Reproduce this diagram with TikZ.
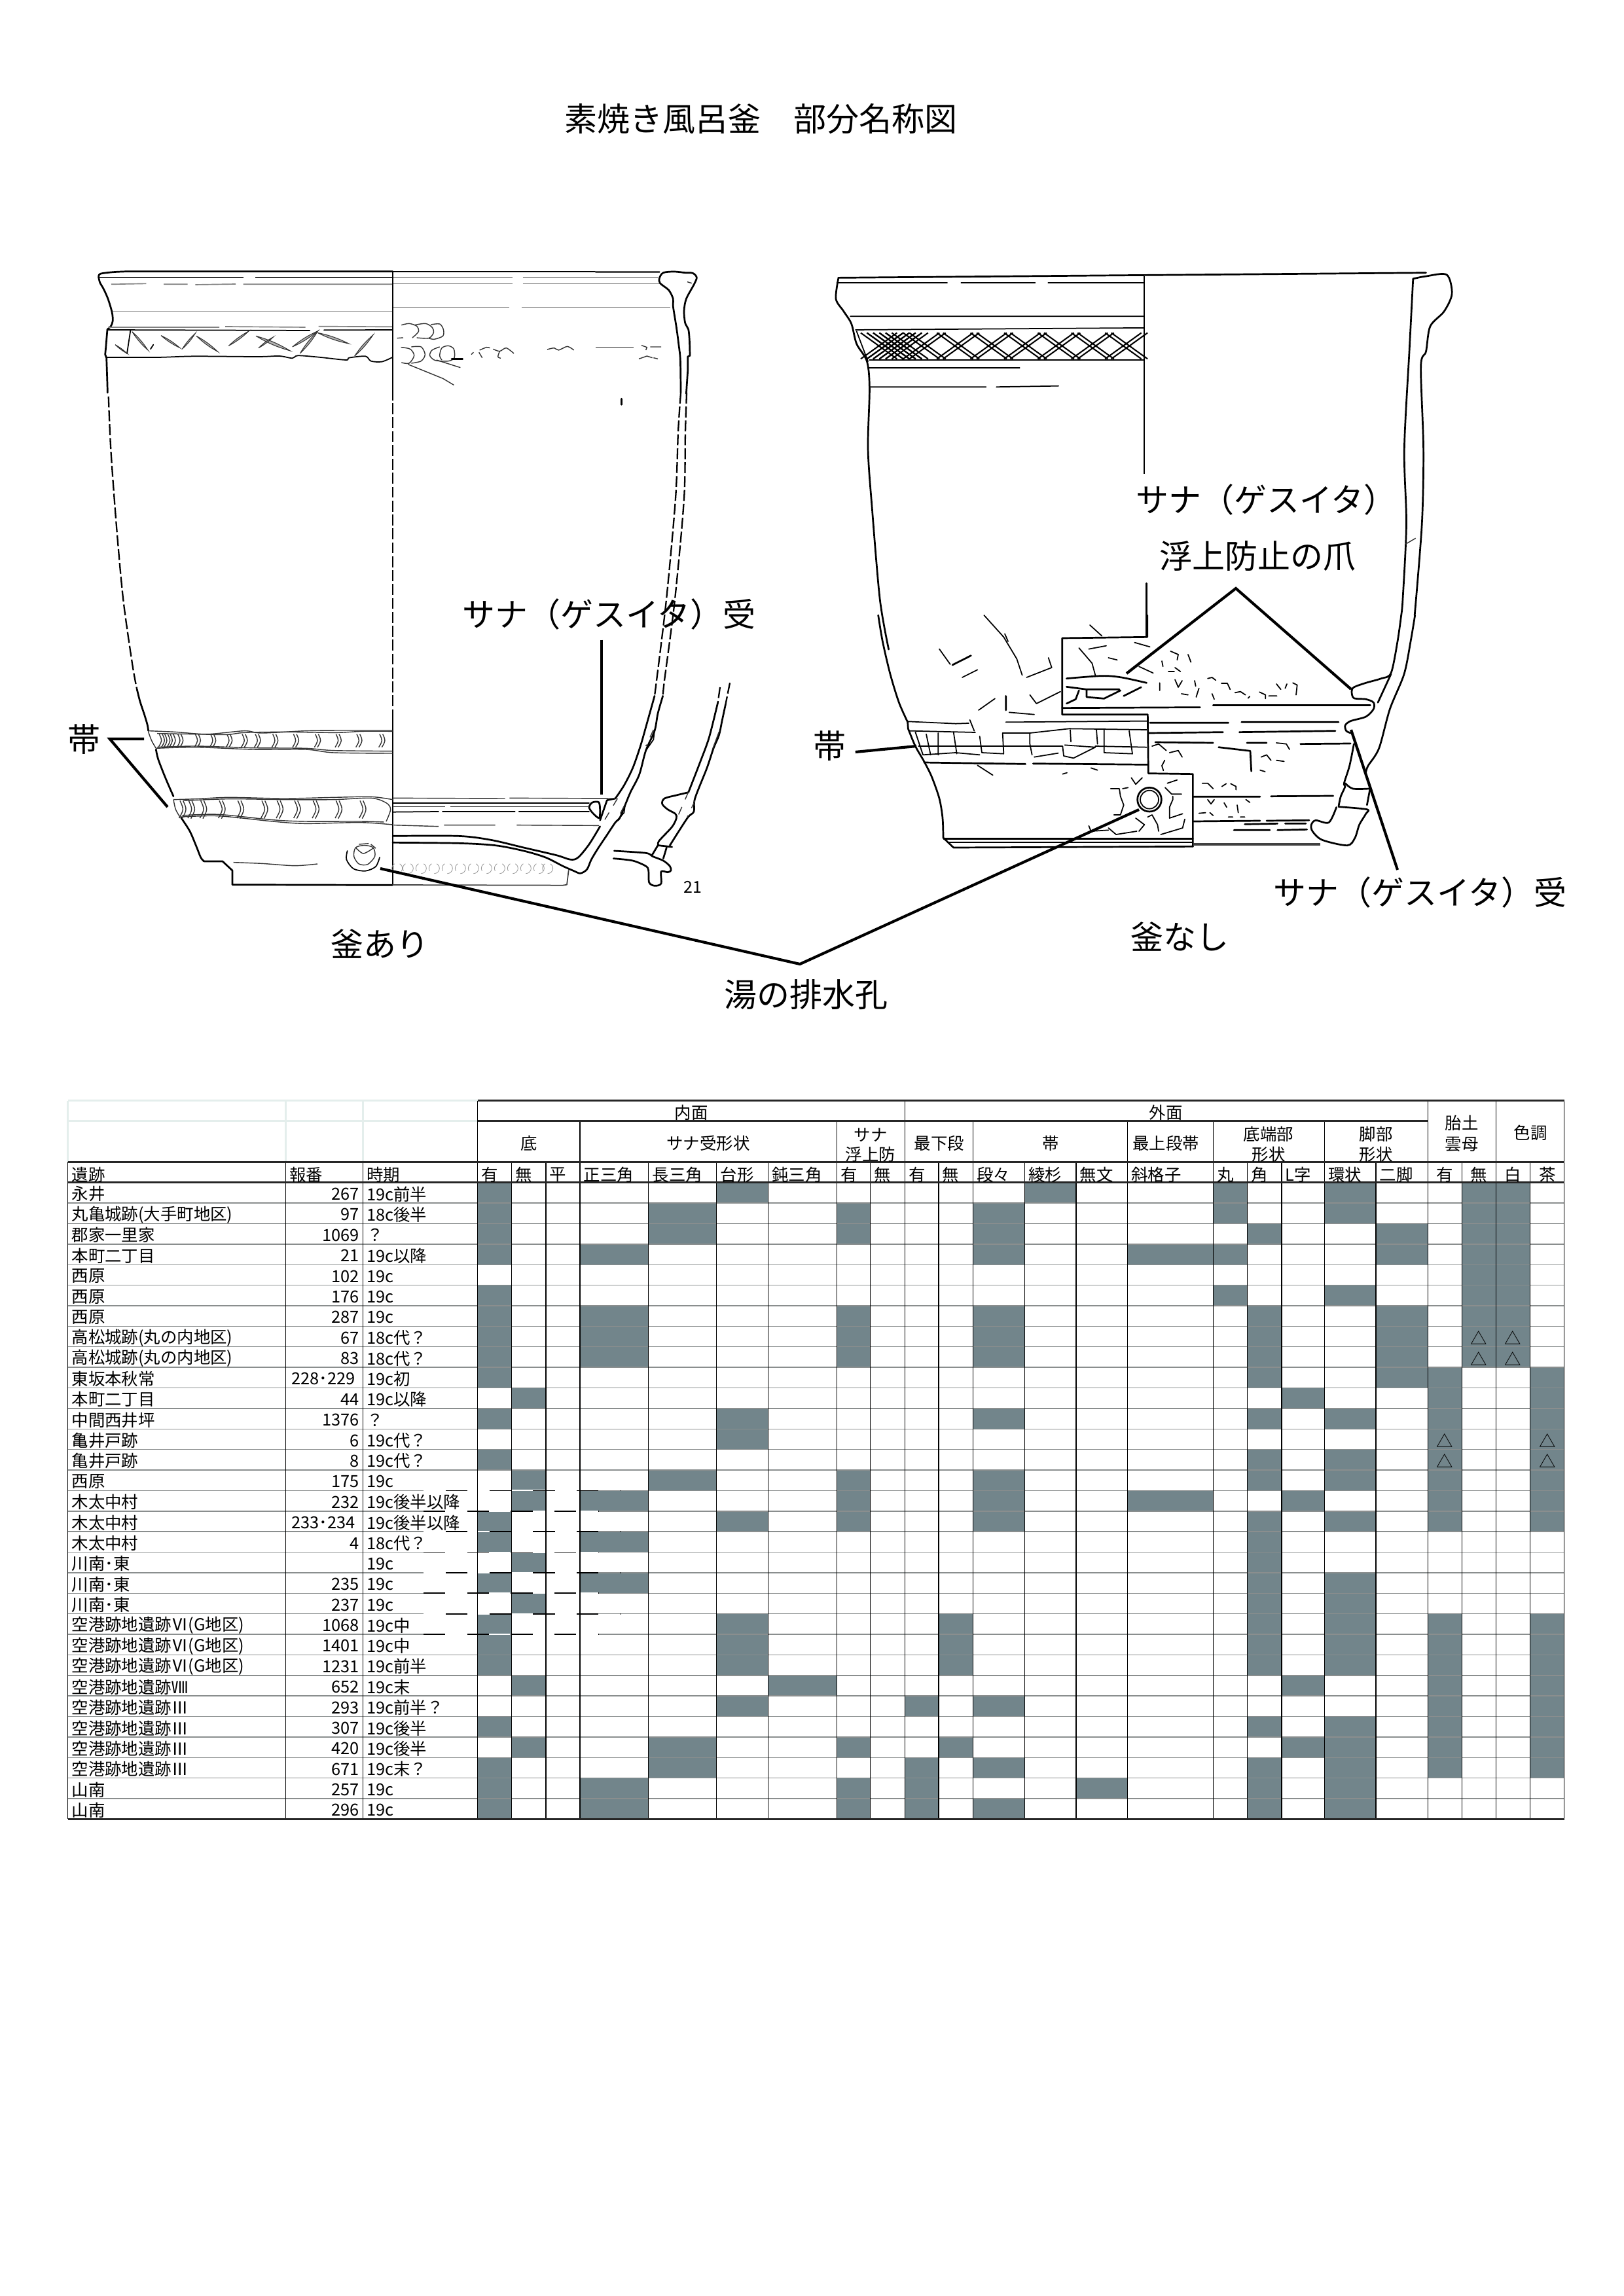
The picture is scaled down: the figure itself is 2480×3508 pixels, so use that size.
\documentclass[tikz,border=0pt]{standalone}
\usepackage{fontspec}
\setmainfont{Noto Sans CJK JP}
\usetikzlibrary{calc}
\definecolor{cellgrey}{HTML}{72858B}
\definecolor{rowgrey}{HTML}{8A8E8E}
\definecolor{palehead}{HTML}{E4EEEC}
\tikzset{
  crop/.style 2 args={shift={(#1,#2)},x=0.08pt,y=-0.08pt},
  cropL/.style={shift={(90,380)},x=0.16836pt,y=-0.18367pt},
  cropR/.style={shift={(1190,380)},x=0.1898pt,y=-0.18367pt},
  ink/.style={line width=0.65pt,line join=round,line cap=round},
  thinink/.style={line width=0.42pt,line join=round,line cap=round},
  fine/.style={line width=0.34pt,black!80,line join=round},
  pale/.style={line width=0.4pt,black!50,line join=round},
  faint/.style={line width=0.2pt,black!40},
  brokenwall/.style={line width=0.55pt,dash pattern=on 4pt off 1.1pt},
  nick/.style={line width=0.25pt,draw=black!80,fill=black!30},
  leader/.style={line width=1pt},
  lbl/.style={font=\fontsize{12}{14}\selectfont},
  cellt/.style={font=\fontsize{6.1}{7}\selectfont,inner ysep=0pt,inner xsep=1.2pt,yshift=-0.5pt},
  cellfill/.style={fill=cellgrey},
  rowline/.style={line width=0.35pt,rowgrey},
  colline/.style={line width=0.3pt,black},
  headline/.style={line width=0.6pt,black!85},
}
\begin{document}
\begin{tikzpicture}[x=0.24pt,y=-0.24pt]
\useasboundingbox (0,0) rectangle (2480,3508);
\node[lbl] (title) at (1162,182) {素焼き風呂釜　部分名称図};

% left pot, upper part
\begin{scope}[crop={140}{400}]
  \draw[ink] plot[smooth] coordinates {(32,70) (40,55) (100,47) (170,44)} -- (1380,44);
  \draw[ink] plot[smooth] coordinates {(32,70) (38,95) (55,125) (75,170) (93,230) (97,270) (88,295) (72,310)};
  \draw[ink] (72,310) -- (65,395) -- (62,425) -- (68,440) -- (72,560) -- (73,600);
  \draw[fine] (35,72) -- (695,72) (750,72) -- (1380,72);
  \draw[pale] (90,103) -- (250,100) (330,103) -- (440,103) (475,105) -- (660,102) (695,103) -- (1380,103);
  \draw[pale] (95,227) -- (1380,227);
  \draw[pale] (75,300) -- (585,300) (612,297) -- (980,300) (1040,296) -- (1380,298);
  \draw[thinink] (75,312) -- (1000,315) (1065,313) -- (1380,312);
  \draw[thinink] plot[smooth] coordinates {(68,438) (300,438) (470,433) (760,435) (860,432) (920,442) (945,430) (1040,437) (1165,450) (1180,440) (1255,433) (1280,455) (1330,458) (1380,437)};
  \foreach \xa/\ya/\xb/\yb in {185/320/258/405,318/338/405/395,480/340/578/412,628/385/720/318,753/340/910/408,765/395/832/345,920/390/1035/318,955/420/1035/320,1035/325/1178/375,1205/432/1290/335,108/380/162/420,415/400/475/328}
    \draw[nick] (\xa,\ya) to[bend left=7] (\xb,\yb) to[bend left=7] (\xa,\ya);
  \draw[thinink] (162,420) -- (178,315) (270,400) -- (283,380);
\end{scope}
\begin{scope}[crop={600}{400}]
  \draw[ink] (0,45) -- (930,45);
  \draw[ink,black!70] (930,46) -- (1222,46);
  \draw[fine] (0,73) -- (550,73) (596,73) -- (1215,73);
  \draw[pale] (0,101) -- (548,101) (596,101) -- (1220,101);
  \draw[pale] (0,209) -- (535,209) (592,209) -- (1272,209);
  % rim section
  \draw[ink] plot[smooth] coordinates {(1362,430) (1360,360) (1355,310) (1340,280) (1335,225) (1345,170) (1380,105) (1393,72) (1375,52) (1340,50) (1290,45) (1240,50) (1222,75) (1225,98) (1265,130) (1285,170) (1285,205) (1300,300) (1310,375) (1318,450) (1320,600)};
  \draw[ink] (1362,430) -- (1352,435) -- (1352,500) -- (1345,605);
  \draw[fine,dashed] (1350,92) -- (1370,98);
  \draw[ink,dashed] (1048,628) -- (1048,655);
  % finger marks
  \draw[fine] plot[smooth] coordinates {(40,290) (75,283) (110,295) (118,320) (90,348)};
  \draw[fine] plot[smooth] coordinates {(100,290) (150,283) (180,300) (187,325) (165,350) (110,348)};
  \draw[fine] plot[smooth] coordinates {(175,288) (215,285) (232,310) (230,340) (190,355) (165,350)};
  \draw[fine] (20,350) -- (48,348);
  \draw[fine] plot[smooth] coordinates {(38,392) (80,400) (98,430) (75,465) (40,462)};
  \draw[fine] plot[smooth] coordinates {(85,390) (130,390) (148,425) (130,455) (85,465)};
  \draw[fine] plot[smooth] coordinates {(215,390) (180,405) (170,430) (195,452) (255,455) (282,440) (280,400) (255,385) (225,395) (215,430) (225,450)};
  \draw[ink] (270,445) -- (320,445);
  \draw[fine] (70,470) -- (230,535) -- (280,565) (200,450) -- (310,485);
  \draw[fine] plot[smooth] coordinates {(360,425) (370,415)} plot[smooth] coordinates {(398,405) (430,392) (445,395)} plot[smooth] coordinates {(395,415) (410,440)};
  \draw[fine] plot[smooth] coordinates {(460,400) (490,410) (520,395) (555,420)} plot[smooth] coordinates {(490,410) (482,435) (495,442)};
  \draw[fine] plot[smooth] coordinates {(708,402) (740,395) (760,405) (800,388) (830,405)};
  \draw[fine] (930,392) -- (1105,392);
  \draw[fine] (1140,383) -- (1165,392) -- (1160,405) (1180,390) -- (1230,390) (1128,445) -- (1165,432) -- (1190,440) (1195,440) -- (1215,445);
\end{scope}

% left pot, long dashed lines
\begin{scope}[cropL]
  \draw[brokenwall] plot[smooth] coordinates {(108,295) (113,400) (125,550) (140,700) (160,830) (170,880)};
\end{scope}
\draw[ink] plot[smooth] coordinates {(209.3,1053.4) (214,1072) (220,1090)};
\draw[thinink] (600.3,414.7) -- (600.3,595);
\draw[line width=0.4pt,dash pattern=on 4pt off 1.1pt] (600.3,595) -- (600.3,1090);
\draw[brokenwall] plot[smooth] coordinates {(1040,600) (1036,660) (1032,762) (1018,916) (1003,1040) (1000,1063)};
\draw[brokenwall] plot[smooth] coordinates {(1049,600) (1047,660) (1045,762) (1031,916) (1015,1040) (1012.7,1063)};

% left pot, lower part
\begin{scope}[crop={200}{1090}]
  \draw[ink] plot[smooth] coordinates {(60,0) (75,50) (80,80)};
  \draw[ink] plot[smooth] coordinates {(115,165) (125,210) (160,300) (195,380)};
  \draw[ink] plot[smooth] coordinates {(230,478) (270,540) (300,610) (320,660) (335,678)};
  \draw[ink] (335,678) -- (420,678) -- (465,720) -- (465,785) -- (1199,787);
  \draw[thinink] (1199,0) -- (1199,787);
  % upper band
  \draw[fine] plot[smooth] coordinates {(80,80) (200,85) (350,95) (520,80) (600,90) (800,80) (950,78) (1050,78) (1199,78)};
  \draw[fine] plot[smooth] coordinates {(120,92) (290,95) (440,97) (520,88) (700,85) (940,88) (1060,82) (1199,82)};
  \draw[fine] plot[smooth] coordinates {(115,160) (300,155) (560,165) (800,165) (930,180) (1199,183)};
  \draw[fine] plot[smooth] coordinates {(120,155) (300,150) (560,158) (800,160) (930,170) (1199,173)};
  \draw[fine] plot[smooth] coordinates {(80,85) (95,125) (115,160)};
  \foreach \x in {130,155,180,215,295,365,440,510,570,650,745,845,940,1035,1140}
    \draw[fine] (\x,95) .. controls (\x+14,125) .. (\x-4,155) (\x+14,95) .. controls (\x+28,125) .. (\x+10,155);
  % lower band
  \draw[fine] plot[smooth] coordinates {(195,395) (300,392) (450,385) (700,390) (930,385) (1100,382) (1199,395)};
  \draw[fine] plot[smooth] coordinates {(240,400) (450,392) (700,395) (930,395) (1100,388) (1170,410) (1190,440) (1170,495)};
  \draw[fine] plot[smooth] coordinates {(220,475) (400,470) (650,495) (800,505) (1050,500) (1199,510)};
  \draw[fine] plot[smooth] coordinates {(235,468) (400,463) (650,488) (800,495) (1050,495) (1160,498)};
  \draw[fine] plot[smooth] coordinates {(195,395) (205,440) (225,475)};
  \foreach \x in {225,265,320,405,490,600,670,750,835,940,1050}
    \draw[fine] (\x,400) .. controls (\x+18,440) .. (\x-4,480) (\x+14,400) .. controls (\x+32,440) .. (\x+10,482);
  % hole
  \draw[fine] plot[smooth cycle] coordinates {(1070,605) (1110,615) (1118,655) (1085,692) (1045,690) (1022,655) (1030,615)};
  \draw[fine] plot[smooth] coordinates {(1030,615) (1065,642) (1110,618)};
  \draw[thinink] plot[smooth] coordinates {(992,630) (988,670) (1020,712) (1075,722) (1122,702) (1140,660)};
  \draw[fine] (1045,600) -- (1090,596) (1100,600) -- (1122,618);
  \draw[fine] plot[smooth] coordinates {(470,683) (600,688) (750,698) (855,690)};
\end{scope}

% left pot, section and base
\begin{scope}[crop={600}{1040}]
  \draw[ink] plot[smooth] coordinates {(1200,70) (1165,195) (1135,300) (1100,400) (1060,480) (1020,540)};
  \draw[ink] (1020,540) -- (982,548) -- (950,640);
  \draw[ink] plot[smooth] coordinates {(1238,70) (1215,150) (1200,230) (1160,320) (1130,430) (1090,510) (1065,570) (1040,630) (1020,650) (980,710) (940,770) (910,820) (890,865) (860,883) (830,872) (780,850) (700,810) (600,780) (470,755) (300,745) (0,742)};
  \draw[ink] plot[smooth] coordinates {(0,712) (300,712) (450,730) (600,765) (750,800) (815,820) (850,810) (900,750) (950,668)};
  \draw[ink] plot[smooth cycle] coordinates {(945,558) (915,558) (900,580) (915,605) (945,630) (950,600)};
  \draw[fine,dashed] (1195,225) -- (1160,300) (1030,540) -- (955,665) (1060,575) -- (1022,650);
  \draw[thinink] (1200,225) -- (1195,270) -- (1160,320) (1065,570) -- (1060,605) -- (1020,650);
  \draw[fine] (0,538) -- (515,540) (535,538) -- (1020,540);
  \draw[thinink] (0,560) -- (900,560);
  \draw[fine] (0,578) -- (240,578) (265,578) -- (900,578);
  \draw[thinink] (0,602) -- (210,600) (228,600) -- (560,600) (578,600) -- (900,600);
  \draw[fine] (5,662) -- (210,668) (235,662) -- (470,662) (568,662) -- (945,664);
  % base
  \draw[thinink,black!75] (0,936) -- (780,938) -- (798,935) -- (806,870);
  \foreach \x in {20,70,130,190,250,310,370,430,490,550,610,670,710}
    \draw[faint,densely dashed] (\x,860) circle[radius=24];
  % small section
  \draw[brokenwall] (1500,30) -- (1490,100) (1545,10) -- (1525,110);
  \draw[ink] plot[smooth] coordinates {(1490,100) (1450,260) (1410,370) (1355,512)};
  \draw[ink] plot[smooth] coordinates {(1525,110) (1510,180) (1495,250) (1470,310) (1440,400) (1385,540) (1380,600) (1350,630) (1270,755)};
  \draw[ink] plot[smooth] coordinates {(1355,512) (1300,525) (1245,540) (1235,565) (1260,590) (1295,610) (1300,630) (1280,670) (1220,735) (1218,755)};
  \draw[ink] (1218,755) -- (1280,762) (1215,755) -- (1188,800) (1255,765) -- (1240,815);
  \draw[ink] plot[smooth] coordinates {(1015,780) (1160,790) (1190,805) (1240,825) (1270,850) (1275,870) (1260,878) (1230,875) (1230,930) (1200,940) (1175,925) (1172,870) (1160,850) (1100,825) (1012,815)};
  \draw[fine,dashed] (1355,510) -- (1305,625) (1385,550) -- (1350,625);
  \draw[fine] (1495,235) -- (1465,315);
  \node[inner sep=0,font=\fontsize{6}{7}\selectfont] (num) at (1375,945) {21};
\end{scope}

% right pot, outline and rim
\begin{scope}[cropR]
  \draw[ink] (115,58) -- (1250,48);
  \draw[ink] plot[smooth] coordinates {(115,58) (110,100) (125,125) (140,150) (150,190) (170,225) (175,280) (172,400) (180,520) (195,700) (212,800)};
  \draw[ink] plot[smooth] coordinates {(1225,60) (1218,200) (1208,400) (1212,550) (1205,700) (1202,732)};
  \draw[ink] plot[smooth] coordinates {(1225,60) (1250,55) (1290,52) (1300,90) (1285,125) (1258,155) (1250,205) (1240,235) (1245,400) (1242,550) (1228,732)};
  \draw[fine] (1210,590) -- (1230,578);
  \draw[thinink] (112,68) -- (325,68) (352,68) -- (495,68) (520,68) -- (705,68);
  \draw[thinink] (138,135) -- (705,135) (148,162) -- (705,158);
  \draw[thinink] (172,238) -- (465,238) (175,222) -- (705,222);
  \draw[thinink] (175,276) -- (400,276) (420,276) -- (540,274);
  \draw[line width=0.5pt] (705,55) -- (705,450);
  \draw[ink] (710,668) -- (710,775);
  % lattice band
  \draw[thinink] (150,165) -- (172,225);
  \foreach \x in {158,170,182,194,206,240,305,370,435,500,565,630}
    \draw[line width=0.5pt] (\x,168) -- (\x+70,220) (\x+70,168) -- (\x,220) (\x+12,168) -- (\x+82,220) (\x+82,168) -- (\x+12,220);
\end{scope}

% right pot, cut-away steps and finger marks
\begin{scope}[crop={1340}{940}]
  \draw[ink] plot[smooth] coordinates {(5,0) (25,120) (60,270) (100,400) (140,490)};
  \draw[ink] (140,490) -- (142,520);
  \draw[ink] plot[smooth] coordinates {(142,520) (175,600) (215,670) (250,740) (285,840) (300,930) (303,1020)};
  \draw[ink] (303,1020) -- (350,1065) -- (1447,1060);
  \draw[ink] (305,1025) -- (1447,1025);
  \draw[thinink] (330,1040) -- (1447,1040);
  \draw[ink] (1238,0) -- (1238,100) -- (848,105) -- (848,455) -- (1240,455) -- (1243,725) -- (1447,728) -- (1447,1060);
  \draw[ink] (848,425) -- (1480,422);
  \draw[thinink] (285,155) -- (335,225) (390,285) -- (460,250) (490,0) -- (580,100) -- (640,200) -- (665,275) (585,85) -- (600,120) (685,285) -- (800,240) -- (785,195) (465,435) -- (540,382) (605,445) -- (720,455) (700,365) -- (730,405) -- (840,350) (975,45) -- (1030,95);
  \draw[ink] (345,228) -- (430,185) (590,370) -- (590,435);
  \draw[thinink] (925,150) -- (985,220) -- (1000,275) (970,155) -- (1050,140) (1060,195) -- (1100,205) (1180,125) -- (1250,145) (1200,235) -- (1265,265);
  \draw[ink] plot[smooth] coordinates {(868,290) (1030,278) (1120,285) (1235,310)};
  \draw[ink] (868,328) -- (960,340) -- (1110,340) (960,345) -- (960,375) -- (1040,382) -- (1115,345) (1130,370) -- (1210,330) (868,405) -- (910,385) -- (925,345);
  % band
  \draw[thinink] (140,487) -- (360,497) -- (420,495) (425,480) -- (445,530) (590,490) -- (1238,485) (150,530) -- (450,537) (700,540) -- (880,520) -- (1235,525);
  \draw[thinink] (175,535) -- (210,640) -- (360,630) -- (470,640) (225,545) -- (245,640) (280,540) -- (280,640) (350,535) -- (365,635);
  \draw[thinink] (470,555) -- (480,630) -- (580,635) -- (575,540) -- (700,540) -- (700,590) -- (710,640) (885,525) -- (888,580) (1005,525) -- (1010,590) (1040,525) -- (1040,630) -- (1170,635) -- (1155,530);
  \draw[thinink] (850,600) -- (855,645) -- (900,655) -- (1000,605) -- (860,595) (190,600) -- (850,600) (1000,600) -- (1235,605) (720,650) -- (830,632);
  \draw[ink] (215,675) -- (680,682) (715,680) -- (1240,685);
  \draw[thinink] (460,688) -- (530,733) (850,728) -- (870,722) (980,700) -- (1010,710);
  % drain hole
  \draw[thinink] (1248,845) circle[radius=42];
  \draw[ink] (1248,845) circle[radius=55];
  \draw[thinink] (1070,795) -- (1110,795) -- (1115,830) -- (1130,870) -- (1115,915) -- (1085,915) (1125,795) -- (1150,790) (1165,745) -- (1185,775) -- (1215,745) (1320,790) -- (1350,820) -- (1395,820) (1355,830) -- (1355,845) -- (1340,880) -- (1340,930) -- (1400,910) (1330,770) -- (1375,755) (1185,930) -- (1225,960) -- (1200,990) (1060,975) -- (1095,1005) -- (1190,990) (970,965) -- (980,990) -- (1060,985) (1300,1005) -- (1400,975) -- (1410,935) (1240,925) -- (1260,915) -- (1285,960) -- (1290,990);
  \draw[thinink] (1260,600) -- (1290,590) -- (1325,620) (1340,630) -- (1380,620) -- (1398,650) (1318,665) -- (1305,690) -- (1312,712);
\end{scope}
\begin{scope}[crop={1720}{940}]
  \draw[ink] plot[smooth] coordinates {(1262,0) (1245,120) (1215,265) (1170,290) (1100,310) (1045,330) (1035,350) (1045,380) (1100,385) (1135,400) (1135,430) (1100,465) (1030,485) (1005,505) (1010,530) (1030,540)};
  \draw[ink] plot[smooth] coordinates {(1325,0) (1305,120) (1275,270) (1210,430) (1160,610) (1110,690) (1100,720)};
  \draw[ink] (1215,270) -- (1155,400);
  \draw[ink] plot[smooth] coordinates {(1045,590) (1025,690) (1000,770) (1005,785) (985,830) (975,875)};
  \draw[ink] plot[smooth] coordinates {(1005,770) (1040,795) (1115,795)};
  \draw[ink] (1120,790) -- (1105,870);
  \draw[ink] plot[smooth] coordinates {(975,878) (1105,890) (1100,910) (1070,960) (1050,1020) (1015,1055) (900,1030) (855,990) (850,960) (870,940) (930,950) (965,880)};
  \draw[ink] (400,413) -- (1120,413);
  \draw[ink] (110,493) -- (470,493) (530,490) -- (975,490) (105,540) -- (445,536) (520,536) -- (960,530) (135,582) -- (400,585) (425,605) -- (570,622) -- (575,715) (555,585) -- (645,585) (800,590) -- (1030,588) (310,832) -- (615,832) (665,830) -- (950,828) (310,945) -- (615,942) (645,942) -- (840,940) (545,958) -- (695,955) (730,955) -- (825,955) (495,985) -- (660,985) (695,985) -- (830,982);
  \draw[line width=1pt,black!75] (310,1050) -- (890,1050);
  \draw[thinink] (165,210) -- (170,235) (205,165) -- (240,180) -- (235,205) (285,180) -- (298,215) (225,240) -- (250,258) (195,258) -- (222,258) (155,310) -- (155,345) (225,295) -- (240,330) -- (258,300) (255,360) -- (285,365) (315,300) -- (320,325) (335,335) -- (322,375) (375,290) -- (395,285) -- (412,298) (395,360) -- (405,385) (438,312) -- (465,312) -- (478,340) (500,355) -- (525,350) -- (548,365) (560,380) -- (568,372) (612,352) -- (640,365) -- (640,382) (655,370) -- (692,370) (690,315) -- (710,340) (730,335) -- (738,315) (765,310) -- (785,320) -- (780,365);
  \draw[thinink] (620,650) -- (645,640) -- (665,665) (690,665) -- (725,670) (615,710) -- (638,717) (690,585) -- (735,590) -- (750,615) (350,770) -- (375,770) -- (400,795) (440,785) -- (460,772) (480,772) -- (505,785) -- (505,800) (375,845) -- (390,865) -- (405,845) (450,860) -- (462,880) (510,870) -- (515,905) (335,908) -- (365,905) (385,905) -- (400,918) (470,925) -- (490,925) (525,925) -- (545,925) (550,845) -- (568,858);
\end{scope}

% labels and leaders
\node[lbl] (obiA) at (128,1129) {帯};
\node[lbl] (sanaA) at (930,939) {サナ（ゲスイタ）受};
\node[lbl] (kamaA) at (580,1442) {釜あり};
\node[lbl] (obiB) at (1267,1139) {帯};
\node[lbl] (sanaB) at (1934,764) {サナ（ゲスイタ）};
\node[lbl] (tsume) at (1921,850) {浮上防止の爪};
\node[lbl] (sanaC) at (2169,1363) {サナ（ゲスイタ）受};
\node[lbl] (kamaB) at (1802,1431) {釜なし};
\node[lbl] (yu) at (1231,1520) {湯の排水孔};
\coordinate (obiA1) at (220,1129);
\coordinate (obiA2) at (256,1233);
\coordinate (sanaAend) at (919,1214);
\coordinate (holeA) at (581,1327);
\coordinate (holeB) at (1740,1237);
\coordinate (yuknee) at (1222,1473);
\coordinate (tsumeTop) at (1888,899);
\coordinate (tsumeA) at (1721,1029);
\coordinate (tsumeB) at (2064,1053);
\coordinate (obiBend) at (1400,1140);
\coordinate (sanaCtop) at (2135,1329);
\coordinate (sanaCend) at (2064,1115);
\draw[leader] (obiA1) -- (obiA.east) -- (obiA2);
\draw[leader] (sanaA.south -| sanaAend) -- (sanaAend);
\draw[leader] (holeA) -- (yuknee) -- (holeB);
\draw[leader] (tsumeA) -- (tsumeTop) -- (tsumeB);
\draw[leader] ([shift={(0,10)}]obiB.east) -- (obiBend);
\draw[leader] (sanaCtop) -- (sanaCend);

% table: column and row positions
\foreach \xpos [count=\i] in {729.8,781.8,833.9,885.9,990.8,1094.8,1173.7,1278.5,1329.6,1382.2,1434,1486.7,1565.3,1643.9,1722.4,1853.6,1905.4,1958,2023.6,2102,2181.5,2233.4,2285.2,2337.8,2389.7}
  \coordinate (c\i) at (\xpos,1793);
\foreach \i in {1,...,32} {
  \pgfmathsetmacro\ypos{1806.7+31.38*(\i-1)}
  \coordinate (r\i) at (103.8,\ypos);
}
% table: shaded cells, one list per row
\foreach \cols [count=\r] in {{1,6,13,16,19,22,23},{1,5,8,12,16,19,22,23},{1,5,8,12,17,20,22,23},{1,4,12,15,16,20,22,23},{22,23},{1,16,19,22,23},{1,4,8,12,17,20,22,23},{1,4,8,12,17,20,22,23},{1,4,8,12,17,20,22,23},{1,17,20,21,24},{2,18,21,24},{1,6,12,17,19,21,24},{6,21,24},{1,17,19,21,24},{2,5,8,12,17,19,21,24},{2,4,8,12,15,18,21,24},{1,6,8,12,17,19,21,24},{1,4,17},{2,17},{1,4,17,19},{2,17,19},{1,6,11,17,19,21,24},{1,6,11,17,19,21,24},{1,6,11,17,19,21,24},{2,7,18,21,24},{6,10,12,21,24},{1,17,19,21,24},{2,5,8,11,18,19,21,24},{1,5,10,12,17,19,21,24},{1,4,8,10,14,17,19},{1,4,8,10,12,17,19}} {
  \foreach \c in \cols {
    \pgfmathtruncatemacro\d{\c+1}
    \pgfmathtruncatemacro\s{\r+1}
    \fill[cellfill] (c\c |- r\r) rectangle (c\d |- r\s);
  }
}
% table: rules
\foreach \i in {2,...,31}
  \draw[rowline] (r\i) -- (r\i -| c25);
\foreach \r [count=\k] in {16,...,23} {
  \pgfmathsetmacro\st{isodd(\k)?681:647}
  \draw[white,line width=0.5pt] (647,0 |- r\r) -- (914,0 |- r\r);
  \draw[black,line width=0.4pt,dash pattern=on 8pt off 8pt] (\st,0 |- r\r) -- (\st+267,0 |- r\r);
}
\draw[palehead,line width=0.8pt] (103.8,1681.7) -- (729.8,1681.7) (103.8,1712.7) -- (729.8,1712.7) (103.8,1681.7) -- (103.8,1775.3) (436.7,1681.7) -- (436.7,1775.3) (554.5,1681.7) -- (554.5,1775.3);
\foreach \xpos in {103.8,436.7,554.5}
  \draw[colline] (\xpos,1775.3) -- (\xpos,2779.4);
\foreach \i in {1,10,21,23,25}
  \draw[colline] (c\i |- 0,1681.7) -- (c\i |- r32);
\foreach \i in {4,8,12,15,16,19}
  \draw[colline] (c\i |- 0,1712.7) -- (c\i |- r32);
\foreach \i in {2,3,5,6,7,9,11,13,14,17,18,20,22,24}
  \draw[colline] (c\i |- 0,1775.3) -- (c\i |- r32);
\draw[headline] (c1 |- 0,1681.7) -- (c25 |- 0,1681.7);
\draw[headline] (c1 |- 0,1712.7) -- (c21 |- 0,1712.7);
\draw[headline] (103.8,1775.3) -- (c25 |- 0,1775.3);
\draw[headline] (103.8,1806.7) -- (c25 |- 0,1806.7);
\draw[headline] (r32) -- (r32 -| c25);
% table: head
\node[cellt] (hIn) at (1056,1698) {内面};
\node[cellt] (hOut) at (1781,1698) {外面};
\node[cellt] (hBottom) at (808,1745) {底};
\node[cellt] (hRest) at (1082,1745) {サナ受形状};
\node[cellt] (hFloatA) at (1330,1732) {サナ};
\node[cellt] (hFloatB) at (1330,1762) {浮上防};
\node[cellt] (hLow) at (1435,1745) {最下段};
\node[cellt] (hBand) at (1605,1745) {帯};
\node[cellt] (hTop) at (1781,1745) {最上段帯};
\node[cellt] (hEndA) at (1938,1731) {底端部};
\node[cellt] (hEndB) at (1938,1762) {形状};
\node[cellt] (hFootA) at (2102,1731) {脚部};
\node[cellt] (hFootB) at (2102,1762) {形状};
\node[cellt] (hMicaA) at (2233,1714) {胎土};
\node[cellt] (hMicaB) at (2233,1746) {雲母};
\node[cellt] (hTone) at (2338,1729) {色調};
\node[cellt,anchor=west] (hSite) at (103.8,1793) {遺跡};
\node[cellt,anchor=west] (hNo) at (436.7,1793) {報番};
\node[cellt,anchor=west] (hEra) at (554.5,1793) {時期};
\foreach \lab [count=\c] in {有,無,平,正三角,長三角,台形,鈍三角,有,無,有,無,段々,綾杉,無文,斜格子,丸,角,L字,環状,二脚}
  \node[cellt,anchor=west] (sub\c) at (c\c) {\lab};
\foreach \lab/\c/\d in {有/21/22,無/22/23,白/23/24,茶/24/25}
  \node[cellt] (sub\c) at ($(c\c)!.5!(c\d)$) {\lab};
% table: rows
\foreach \sitename/\repno/\era [count=\i] in {永井/267/19c前半,丸亀城跡(大手町地区)/97/18c後半,郡家一里家/1069/？,本町二丁目/21/19c以降,西原/102/19c,西原/176/19c,西原/287/19c,高松城跡(丸の内地区)/67/18c代？,高松城跡(丸の内地区)/83/18c代？,東坂本秋常/228･229\kern1.4pt/19c初,本町二丁目/44/19c以降,中間西井坪/1376/？,亀井戸跡/6/19c代？,亀井戸跡/8/19c代？,西原/175/19c,木太中村/232/19c後半以降,木太中村/233･234\kern1.4pt/19c後半以降,木太中村/4/18c代？,川南･東//19c,川南･東/235/19c,川南･東/237/19c,空港跡地遺跡Ⅵ(G地区)/1068/19c中,空港跡地遺跡Ⅵ(G地区)/1401/19c中,空港跡地遺跡Ⅵ(G地区)/1231/19c前半,空港跡地遺跡Ⅷ/652/19c末,空港跡地遺跡Ⅲ/293/19c前半？,空港跡地遺跡Ⅲ/307/19c後半,空港跡地遺跡Ⅲ/420/19c後半,空港跡地遺跡Ⅲ/671/19c末？,山南/257/19c,山南/296/19c} {
  \pgfmathsetmacro\ymid{1806.7+31.38*(\i-.5)}
  \node[cellt,anchor=west] (site\i) at (103.8,\ymid) {\sitename};
  \node[cellt,anchor=east] (rep\i) at (554.5,\ymid) {\repno};
  \node[cellt,anchor=west] (era\i) at (554.5,\ymid) {\era};
}
% table: triangles
\foreach \c/\d/\r/\s [count=\k] in {22/23/8/9,23/24/8/9,22/23/9/10,23/24/9/10,21/22/13/14,24/25/13/14,21/22/14/15,24/25/14/15}
  \node[cellt] (tri\k) at ($(c\c |- r\r)!.5!(c\d |- r\s)$) {△};
\end{tikzpicture}
\end{document}
